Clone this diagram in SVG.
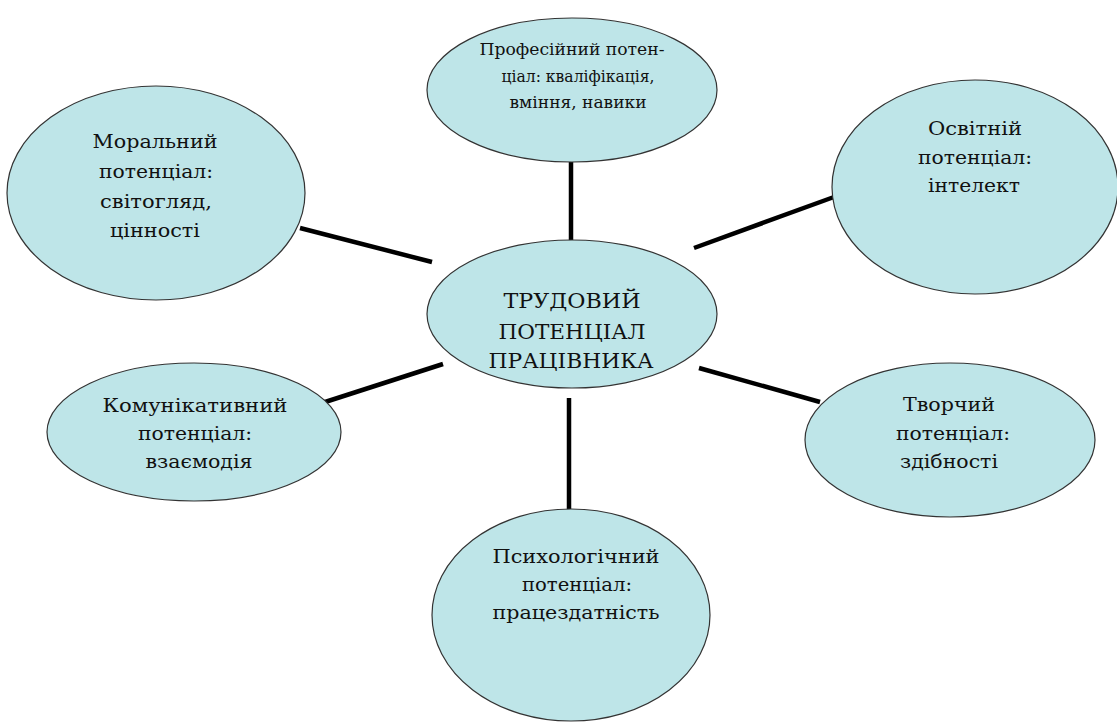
<svg xmlns="http://www.w3.org/2000/svg" width="1117" height="722" viewBox="0 0 1117 722">
<style>
.n ellipse{fill:#bee5e8;stroke:#333;stroke-width:1.2}
.t{font-family:"DejaVu Serif","Liberation Serif",serif;font-size:19px;fill:#111;text-anchor:middle}
.s{font-size:17px}
.c{font-size:21px}
#edges line{stroke:#000;stroke-width:4.5}
</style>
<rect width="1117" height="722" fill="#fff"/>
<g id="edges">
<line x1="571" y1="162" x2="571" y2="243"/>
<line x1="300" y1="228" x2="432" y2="262"/>
<line x1="834" y1="197" x2="694" y2="248"/>
<line x1="322" y1="403" x2="443" y2="364"/>
<line x1="699" y1="368" x2="820" y2="402"/>
<line x1="569" y1="398" x2="569" y2="510"/>
</g>
<g id="n-prof" class="n"><ellipse cx="572" cy="90" rx="145" ry="72"/>
<text class="t s" x="572" y="55" textLength="185" lengthAdjust="spacingAndGlyphs">Професійний потен-</text>
<text class="t s" x="578" y="82" textLength="153" lengthAdjust="spacingAndGlyphs">ціал: кваліфікація,</text>
<text class="t s" x="578" y="108" textLength="137" lengthAdjust="spacingAndGlyphs">вміння, навики</text></g>
<g id="n-moral" class="n"><ellipse cx="156" cy="193" rx="149" ry="107"/>
<text class="t" x="155" y="148" textLength="125" lengthAdjust="spacingAndGlyphs">Моральний</text>
<text class="t" x="156" y="178" textLength="114" lengthAdjust="spacingAndGlyphs">потенціал:</text>
<text class="t" x="156" y="208" textLength="112" lengthAdjust="spacingAndGlyphs">світогляд,</text>
<text class="t" x="155" y="237" textLength="90" lengthAdjust="spacingAndGlyphs">цінності</text></g>
<g id="n-osv" class="n"><ellipse cx="975" cy="187" rx="143" ry="107"/>
<text class="t" x="975" y="135" textLength="94" lengthAdjust="spacingAndGlyphs">Освітній</text>
<text class="t" x="975" y="164" textLength="114" lengthAdjust="spacingAndGlyphs">потенціал:</text>
<text class="t" x="974" y="192" textLength="92" lengthAdjust="spacingAndGlyphs">інтелект</text></g>
<g id="n-center" class="n"><ellipse cx="572" cy="314" rx="145" ry="74"/>
<text class="t c" x="572" y="308" textLength="137" lengthAdjust="spacingAndGlyphs">ТРУДОВИЙ</text>
<text class="t c" x="572" y="339" textLength="147" lengthAdjust="spacingAndGlyphs">ПОТЕНЦІАЛ</text>
<text class="t c" x="571" y="368" textLength="165" lengthAdjust="spacingAndGlyphs">ПРАЦІВНИКА</text></g>
<g id="n-kom" class="n"><ellipse cx="194" cy="432" rx="147" ry="69"/>
<text class="t" x="195" y="412" textLength="185" lengthAdjust="spacingAndGlyphs">Комунікативний</text>
<text class="t" x="195" y="440" textLength="114" lengthAdjust="spacingAndGlyphs">потенціал:</text>
<text class="t" x="199" y="468" textLength="107" lengthAdjust="spacingAndGlyphs">взаємодія</text></g>
<g id="n-tvor" class="n"><ellipse cx="950" cy="440" rx="145" ry="77"/>
<text class="t" x="949" y="411" textLength="92" lengthAdjust="spacingAndGlyphs">Творчий</text>
<text class="t" x="953" y="440" textLength="114" lengthAdjust="spacingAndGlyphs">потенціал:</text>
<text class="t" x="949" y="468" textLength="98" lengthAdjust="spacingAndGlyphs">здібності</text></g>
<g id="n-psy" class="n"><ellipse cx="571" cy="615" rx="139" ry="106"/>
<text class="t" x="576" y="563" textLength="167" lengthAdjust="spacingAndGlyphs">Психологічний</text>
<text class="t" x="577" y="591" textLength="110" lengthAdjust="spacingAndGlyphs">потенціал:</text>
<text class="t" x="576" y="619" textLength="167" lengthAdjust="spacingAndGlyphs">працездатність</text></g>
</svg>
